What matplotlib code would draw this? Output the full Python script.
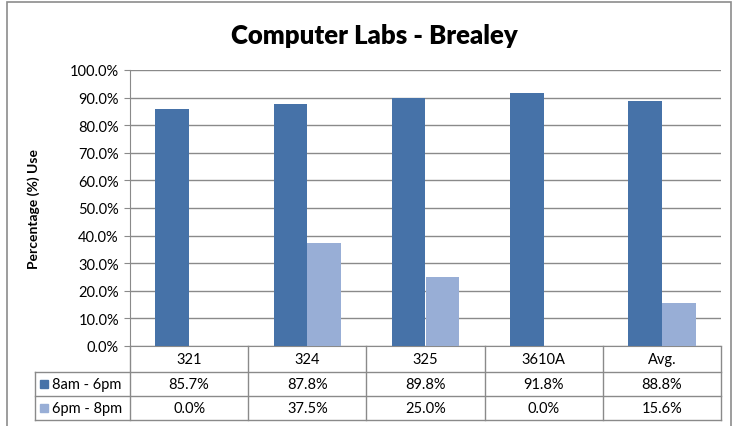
import matplotlib.pyplot as plt
from matplotlib.patches import Rectangle
import numpy as np

# data
labs = ['321', '324', '325', '3610A', 'Avg.']
day_use = [85.7, 87.8, 89.8, 91.8, 88.8]      # 8am - 6pm
evening_use = [0.0, 37.5, 25.0, 0.0, 15.6]    # 6pm - 8pm
series_names = ['8am - 6pm', '6pm - 8pm']
dark = '#4672A8'
light = '#98AED6'

plt.rcParams['font.family'] = ['Lato', 'DejaVu Sans']

W, H = 734, 427
fig = plt.figure(figsize=(W / 100, H / 100), dpi=100)

def fx(x):
    return x / W

def fy(y):
    return 1 - y / H

# outer chart border
fig.patches.append(Rectangle((fx(7), fy(440)), fx(724), fy(3) - fy(440),
                             transform=fig.transFigure, fill=False,
                             edgecolor='#8c8c8c', lw=1.2))

x0, x1, ytop, ybot = 130, 721, 71, 347
ax = fig.add_axes([fx(x0), fy(ybot), fx(x1 - x0), fy(ytop) - fy(ybot)])

x = np.arange(len(labs))
bw = 0.285
ax.bar(x + 0.5 - bw / 2, day_use, bw, color=dark, zorder=3)
ax.bar(x + 0.5 + bw / 2, evening_use, bw, color=light, zorder=3)

ax.set_xlim(0, len(labs))
ax.set_ylim(0, 100)
ax.set_yticks(np.arange(0, 101, 10))
ax.set_yticklabels(['%.1f%%' % v for v in np.arange(0, 101, 10)], fontsize=10.5)
ax.set_xticks([])
ax.grid(axis='y', color='#8a8a8a', lw=1, zorder=0)
for s in ['top', 'right']:
    ax.spines[s].set_visible(False)
ax.spines['left'].set_color('#8a8a8a')
ax.spines['bottom'].set_color('#8a8a8a')
ax.tick_params(axis='y', length=4, color='#8a8a8a', pad=4)

fig.text(fx(374), fy(36), 'Computer Labs - Brealey', ha='center', va='center',
         fontsize=18.5, fontweight='heavy')
fig.text(fx(34), fy(209), 'Percentage (%) Use', rotation=90, ha='center',
         va='center', fontsize=10, fontweight='bold')

# data table below the axes
line_kw = dict(color='#8a8a8a', lw=1, transform=fig.transFigure)
rows_y = [347, 373, 397, 421]
col_x = [x0 + (x1 - x0) * i / len(labs) for i in range(len(labs) + 1)]
for cx in col_x:
    fig.add_artist(plt.Line2D([fx(cx), fx(cx)], [fy(347), fy(421)], **line_kw))
fig.add_artist(plt.Line2D([fx(35), fx(35)], [fy(373), fy(421)], **line_kw))
for ry in rows_y[1:]:
    fig.add_artist(plt.Line2D([fx(35), fx(x1)], [fy(ry), fy(ry)], **line_kw))

for i, lab in enumerate(labs):
    cx = (col_x[i] + col_x[i + 1]) / 2
    fig.text(fx(cx), fy(360), lab, ha='center', va='center', fontsize=10.5)
    fig.text(fx(cx), fy(385), '%.1f%%' % day_use[i], ha='center', va='center', fontsize=10.5)
    fig.text(fx(cx), fy(409), '%.1f%%' % evening_use[i], ha='center', va='center', fontsize=10.5)

for name, col, ry in zip(series_names, [dark, light], [385, 409]):
    fig.patches.append(Rectangle((fx(40), fy(ry + 4)), fx(8), fy(ry - 4) - fy(ry + 4),
                                 transform=fig.transFigure, color=col))
    fig.text(fx(52), fy(ry), name, ha='left', va='center', fontsize=10.5)

fig.savefig('out.png', dpi=100)
